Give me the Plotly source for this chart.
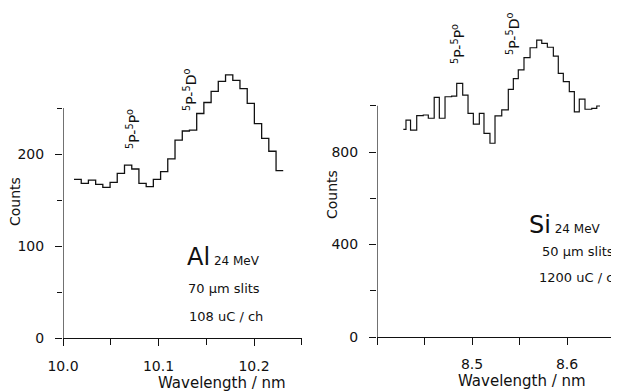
import plotly.graph_objects as go

# ---- data ----
al_edges = [10.0115, 10.0191, 10.0266, 10.0342, 10.0417, 10.0493, 10.0568, 10.0644,
            10.0720, 10.0795, 10.0871, 10.0946, 10.1022, 10.1097, 10.1173, 10.1249,
            10.1324, 10.1400, 10.1475, 10.1551, 10.1626, 10.1702, 10.1778, 10.1853,
            10.1929, 10.2004, 10.2080, 10.2155, 10.2231, 10.2306]
al_counts = [172.5, 168, 171.7, 167, 163.8, 169.2, 179, 188, 183.7, 168.1, 164.5, 172.5,
             180.8, 194.6, 215, 225, 226, 244, 256, 268, 279, 286, 280, 271, 255, 233,
             217, 203, 182]

si_edges = [8.4277, 8.4305, 8.4353, 8.4418, 8.4487, 8.4540, 8.4602, 8.4656, 8.4716,
            8.4786, 8.4839, 8.4902, 8.4958, 8.5014, 8.5077, 8.5126, 8.5189, 8.5242,
            8.5313, 8.5382, 8.5435, 8.5487, 8.5547, 8.5611, 8.5681, 8.5734, 8.5793,
            8.5856, 8.5908, 8.5961, 8.6024, 8.6077, 8.6129, 8.6189, 8.6260, 8.6313,
            8.6347]
si_counts = [898, 938, 895, 957, 960, 946, 1036, 946, 1039, 1042, 1097, 1046, 967, 921,
             967, 881, 838, 956, 982, 1071, 1117, 1155, 1208, 1251, 1284, 1270, 1253,
             1215, 1140, 1104, 1061, 974, 1029, 985, 989, 999]

al_xticks = [10.0, 10.1, 10.2]
al_xtick_text = ["10.0", "10.1", "10.2"]
al_xminor = [10.05, 10.15, 10.25]
al_yticks = [0, 100, 200]
al_yminor = [50, 150, 250]

si_xticks = [8.4, 8.5, 8.6]
si_xtick_text = ["", "8.5", "8.6"]
si_xminor = [8.45, 8.55, 8.65]
si_yticks = [0, 400, 800]
si_yminor = [200, 600, 1000]

# the page puts the figure 8 px in from the top-left corner of the window
OFF = 8
W, H = 619 - OFF, 392 - OFF
FONT = "DejaVu Sans"
INK = "#111111"


def px(x):
    return (x - OFF) / W


def py(y):
    return (H - (y - OFF)) / H


fig = go.Figure()
fig.add_trace(go.Scatter(x=al_edges, y=al_counts + [al_counts[-1]], mode="lines",
                         line=dict(shape="hv", color=INK, width=1.3),
                         xaxis="x", yaxis="y", showlegend=False, hoverinfo="skip"))
fig.add_trace(go.Scatter(x=si_edges, y=si_counts + [si_counts[-1]], mode="lines",
                         line=dict(shape="hv", color=INK, width=1.2),
                         xaxis="x2", yaxis="y2", showlegend=False, hoverinfo="skip"))

tickfont = dict(family=FONT, size=14, color=INK)
common_x = dict(showgrid=False, zeroline=False, showline=True, linecolor=INK, linewidth=1.2,
                ticks="outside", ticklen=7, tickwidth=1.2, tickcolor=INK, tickfont=tickfont,
                tickmode="array", automargin=False, fixedrange=True)
common_y = dict(showgrid=False, zeroline=False, showline=False,
                ticks="outside", ticklen=7, tickwidth=1.2, tickcolor=INK, tickfont=tickfont,
                tickmode="array", ticklabelstandoff=8, automargin=False, fixedrange=True)

fig.update_layout(
    width=W, height=H, margin=dict(l=0, r=0, t=0, b=0),
    paper_bgcolor="white", plot_bgcolor="white",
    xaxis=dict(common_x, domain=[px(63), px(301.75)], range=[10.0, 10.25],
               tickvals=al_xticks, ticktext=al_xtick_text, ticklabelstandoff=8,
               minor=dict(tickvals=al_xminor, ticks="outside", ticklen=6, tickcolor=INK,
                          tickwidth=1.2)),
    yaxis=dict(common_y, domain=[py(338), py(62)], range=[0, 300], anchor="x",
               tickvals=al_yticks,
               minor=dict(tickvals=al_yminor, ticks="outside", ticklen=5, tickcolor=INK,
                          tickwidth=1.2)),
    xaxis2=dict(common_x, domain=[px(377), 1.0], range=[8.4, 8.6547], anchor="y2",
                tickvals=si_xticks, ticktext=si_xtick_text, ticklabelstandoff=7,
                minor=dict(tickvals=si_xminor, ticks="outside", ticklen=7, tickcolor=INK,
                           tickwidth=1.2)),
    yaxis2=dict(common_y, domain=[py(337), py(36.4)], range=[0, 1300], anchor="x2",
                tickvals=si_yticks,
                minor=dict(tickvals=si_yminor, ticks="outside", ticklen=6, tickcolor=INK,
                           tickwidth=1.2)),
)

# vertical axis lines that stop at the top tick
fig.add_shape(type="line", xref="x", yref="y", x0=10.0, x1=10.0, y0=0, y1=250,
              line=dict(color=INK, width=1.2))
fig.add_shape(type="line", xref="x2", yref="y2", x0=8.4, x1=8.4, y0=0, y1=1000,
              line=dict(color=INK, width=1.2))


def note(text, x, y, size=13, angle=0, xanchor="center", yanchor="middle"):
    fig.add_annotation(text=text, x=px(x), y=py(y), xref="paper", yref="paper",
                       showarrow=False, textangle=angle, xanchor=xanchor, yanchor=yanchor,
                       font=dict(family=FONT, size=size, color=INK))


trans_pp = "<sup>5</sup>P-<sup>5</sup>P<sup>o</sup>"
trans_pd = "<sup>5</sup>P-<sup>5</sup>D<sup>o</sup>"

# left panel
note("Counts", 15, 202, size=14, angle=-90)
note("Wavelength / nm", 222, 383, size=15)
note(trans_pp, 133, 129, size=14, angle=-90)
note(trans_pd, 190, 90, size=14, angle=-90)
note("Al<span style='font-size:12px'> 24 MeV</span>", 185, 257, size=24, xanchor="left")
note("70 µm slits", 224, 288, size=13)
note("108 uC / ch", 226, 316, size=13)

# right panel
note("Counts", 332, 195, size=14, angle=-90)
note("Wavelength / nm", 522, 381, size=15)
note(trans_pp, 458, 44, size=14, angle=-90)
note(trans_pd, 513, 34, size=14, angle=-90)
note("Si<span style='font-size:12px'> 24 MeV</span>", 527, 225, size=24, xanchor="left")
note("50 µm slits", 540, 251, size=13, xanchor="left")
note("1200 uC / ch", 537, 277, size=13, xanchor="left")

fig.write_html("out.html")
